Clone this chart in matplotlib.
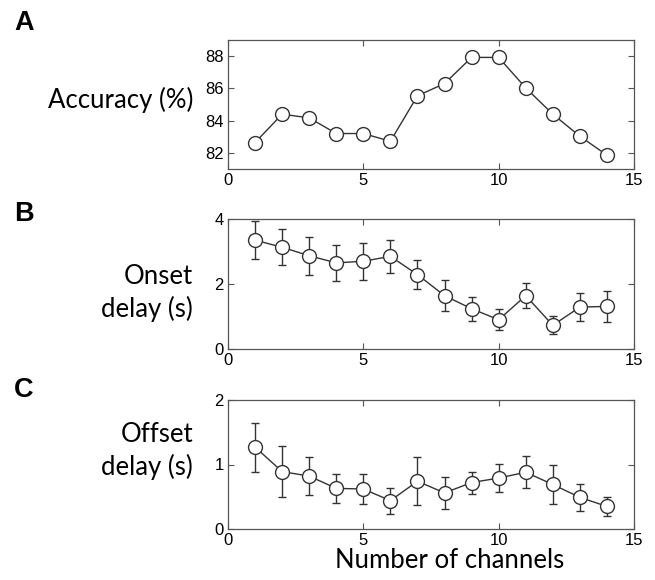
import numpy as np
import matplotlib
matplotlib.use('Agg')
import matplotlib.pyplot as plt

channels = list(range(1, 15))
accuracy = [82.64, 84.4, 84.17, 83.2, 83.2, 82.72, 85.54, 86.3, 87.92, 87.92, 86.03, 84.4, 83.03, 81.86]
onset = [3.35, 3.13, 2.87, 2.65, 2.70, 2.85, 2.29, 1.64, 1.24, 0.90, 1.64, 0.73, 1.29, 1.31]
onset_err = [0.58, 0.55, 0.59, 0.55, 0.57, 0.50, 0.45, 0.48, 0.37, 0.33, 0.38, 0.28, 0.43, 0.49]
offset = [1.27, 0.89, 0.82, 0.63, 0.62, 0.44, 0.74, 0.56, 0.72, 0.79, 0.88, 0.69, 0.49, 0.35]
offset_err = [0.38, 0.39, 0.29, 0.23, 0.23, 0.20, 0.37, 0.25, 0.17, 0.22, 0.25, 0.30, 0.21, 0.15]

W, H = 655, 580
fig = plt.figure(figsize=(W / 100, H / 100), dpi=100)

def box(l, t, r, b):
    return [l / W, 1 - b / H, (r - l) / W, (b - t) / H]

lab_font = 'Lato'
tick_font = 'Liberation Sans'
lc = '#333333'

# (axes rect, values, errors, ylim, yticks, ylabel, label y px, letter, letter y px)
panels = [
    (box(228, 40, 634, 169), accuracy, None, (81, 89), [82, 84, 86, 88], 'Accuracy (%)', 100, 'A', 23),
    (box(228, 219, 634, 349), onset, onset_err, (0, 4), [0, 2, 4], 'Onset\ndelay (s)', 293, 'B', 214),
    (box(228, 400, 634, 529), offset, offset_err, (0, 2), [0, 1, 2], 'Offset\ndelay (s)', 451, 'C', 390),
]

for rect, y, err, ylim, yt, ylab, yl, letter, ly in panels:
    ax = fig.add_axes(rect)
    if err is None:
        ax.plot(channels, y, '-o', color=lc, lw=1, ms=10, mfc='white', mec=lc, mew=1)
    else:
        ax.errorbar(channels, y, yerr=err, fmt='-o', color=lc, lw=1, ms=10,
                    mfc='white', mec=lc, mew=1, ecolor=lc, elinewidth=1, capsize=3)
    ax.set_xlim(0, 15)
    ax.set_ylim(*ylim)
    ax.set_xticks([0, 5, 10, 15])
    ax.set_yticks(yt)
    ax.tick_params(direction='in', top=True, right=True, length=4, width=0.8,
                   color='#555555', labelsize=12, pad=3)
    for t in ax.get_xticklabels() + ax.get_yticklabels():
        t.set_fontfamily(tick_font)
    for s in ax.spines.values():
        s.set_color('#555555')
        s.set_linewidth(0.9)
    fig.text(193 / W, 1 - yl / H, ylab, ha='right', va='center', fontsize=18.5,
             family=lab_font, linespacing=1.35)
    fig.text(14 / W, 1 - ly / H, letter, ha='left', va='center', fontsize=19.5,
             fontweight='bold', family='Liberation Sans')

fig.text(450 / W, 1 - 560 / H, 'Number of channels', ha='center', va='center',
         fontsize=18.5, family=lab_font)

plt.savefig('out.png', dpi=100)
